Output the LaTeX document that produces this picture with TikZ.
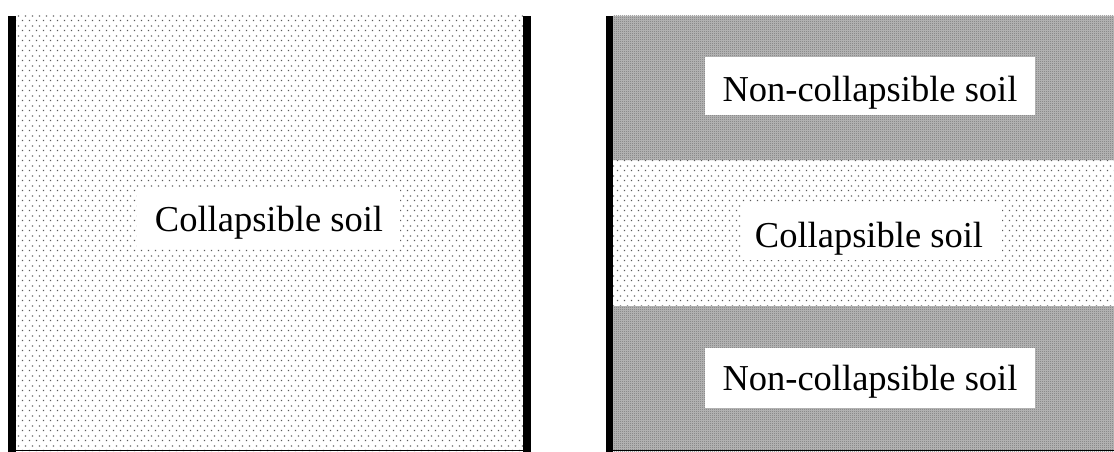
\documentclass[tikz,border=0pt]{standalone}
\usepackage{fontspec}
\setmainfont{Liberation Serif}
\usetikzlibrary{patterns}
\pgfdeclarepatternformonly{sparsedots}{\pgfpointorigin}{\pgfpoint{7pt}{10pt}}{\pgfpoint{7pt}{10pt}}{%
  \pgfpathrectangle{\pgfpoint{1pt}{1pt}}{\pgfpoint{1.3pt}{1.3pt}}%
  \pgfpathrectangle{\pgfpoint{4.5pt}{6pt}}{\pgfpoint{1.3pt}{1.3pt}}%
  \pgfusepath{fill}}
\pgfdeclarepatternformonly{densecheck}{\pgfpointorigin}{\pgfpoint{2pt}{2pt}}{\pgfpoint{2pt}{2pt}}{%
  \pgfpathrectangle{\pgfpointorigin}{\pgfpoint{1pt}{1pt}}%
  \pgfpathrectangle{\pgfpoint{1pt}{1pt}}{\pgfpoint{1pt}{1pt}}%
  \pgfusepath{fill}}
\tikzset{
  collapsible/.style={pattern=sparsedots, pattern color=black!65},
  noncollapsible/.style={fill=black!27, postaction={pattern=densecheck, pattern color=black!55}},
  wall/.style={fill=black},
  labelbox/.style={fill=white, draw=none, inner sep=0pt},
  labeltext/.style={anchor=base, inner sep=0pt, font=\fontsize{36.5}{40}\selectfont}
}
\begin{document}
\begin{tikzpicture}[x=1pt,y=-1pt]
\useasboundingbox (0,0) rectangle (1114,452);
% left panel
\path[collapsible] (16,16) rectangle (523,451);
\fill[wall] (8,16) rectangle (16,452);
\fill[wall] (523,16) rectangle (531,452);
\draw[line width=1pt] (16,450.5) -- (523,450.5);
\node[labelbox, minimum width=263pt, minimum height=59pt] (lbox) at (268.5,218.5) {};
\node[labeltext] (ltext) at (269,231) {Collapsible soil};
% right panel
\path[noncollapsible] (613,16) rectangle (1114,160);
\path[collapsible] (613,160) rectangle (1114,306);
\path[noncollapsible] (613,306) rectangle (1114,451);
\fill[wall] (606,16) rectangle (613,452);
\draw[line width=1pt] (613,450.5) -- (1114,450.5);
\node[labelbox, minimum width=330pt, minimum height=58pt] (tbox) at (870,86) {};
\node[labeltext] (ttext) at (870,102) {Non-collapsible soil};
\node[labelbox, minimum width=260pt, minimum height=57pt] (mbox) at (872,231.5) {};
\node[labeltext] (mtext) at (869,247) {Collapsible soil};
\node[labelbox, minimum width=330pt, minimum height=60pt] (bbox) at (870,378) {};
\node[labeltext] (btext) at (870,390) {Non-collapsible soil};
\end{tikzpicture}
\end{document}
